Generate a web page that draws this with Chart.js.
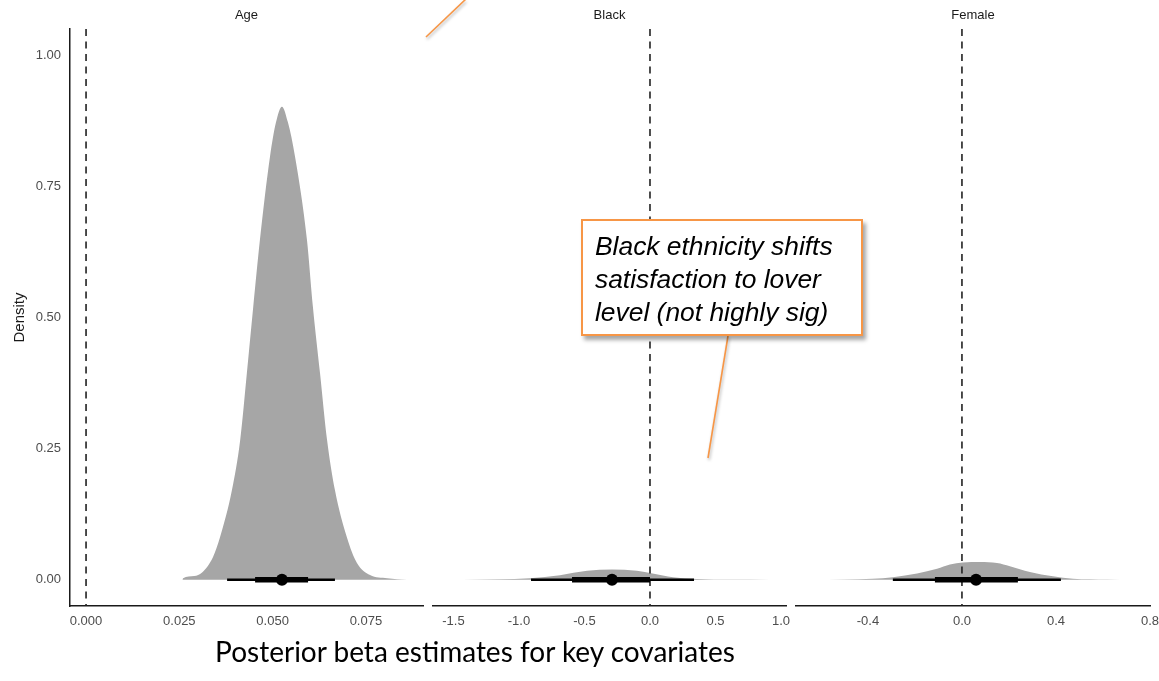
<!DOCTYPE html>
<html>
<head>
<meta charset="utf-8">
<script src="https://cdn.jsdelivr.net/npm/chart.js@4.4.0/dist/chart.umd.min.js"></script>
<style>
  html, body { margin: 0; padding: 0; background: #fff; }
  #wrap { position: relative; width: 1159px; height: 681px; overflow: hidden; background: #fff; }
  #wrap canvas { position: absolute; left: 0; top: 0; }
  #note {
    position: absolute; left: 581px; top: 219px; width: 282px; height: 117px;
    border: 2px solid #f79646; background: #fff;
    box-shadow: 3px 4px 4px rgba(0,0,0,0.35);
    font-family: "Liberation Sans", Arial, sans-serif; font-style: italic;
    font-size: 26.4px; line-height: 33px; color: #000;
    padding: 9px 0 0 12px; box-sizing: border-box; white-space: nowrap;
  }
  #leaders { position: absolute; left: 0; top: 0; filter: drop-shadow(1px 2px 1.5px rgba(0,0,0,0.3)); }
  #caption {
    position: absolute; left: 0; top: 634px; width: 950px; text-align: center;
    font-family: Lato, "Open Sans", sans-serif; font-size: 28px; color: #000;
  }
</style>
</head>
<body>
<div id="wrap">
  <canvas id="age" width="1159" height="681"></canvas>
  <canvas id="black" width="1159" height="681"></canvas>
  <canvas id="female" width="1159" height="681"></canvas>
  <svg id="leaders" width="1159" height="681">
    <line x1="728" y1="336" x2="708" y2="458" stroke="#f79646" stroke-width="1.6"/>
    <line x1="426" y1="37" x2="467" y2="-2" stroke="#f79646" stroke-width="1.6"/>
  </svg>
  <div id="note">Black ethnicity shifts<br>satisfaction to lover<br>level (not highly sig)</div>
  <div id="caption">Posterior beta estimates for key covariates</div>
</div>
<script>
// facet names and shared y ticks
const panels = ['Age', 'Black', 'Female'];
const yTicks = [0, 0.25, 0.5, 0.75, 1];

// Age posterior density (x, density)
const ageX = [0.0258, 0.0260, 0.0290, 0.0311, 0.0340, 0.0359, 0.0391, 0.0413, 0.0431, 0.0448, 0.0466,
  0.0493, 0.0509, 0.0525, 0.0541, 0.0560, 0.0592, 0.0608, 0.0627, 0.0646, 0.0667, 0.0699, 0.0726,
  0.0761, 0.0807, 0.0860];
const ageDensity = [0.000, 0.003, 0.007, 0.014, 0.043, 0.081, 0.171, 0.266, 0.394, 0.520, 0.648,
  0.807, 0.872, 0.902, 0.872, 0.807, 0.648, 0.520, 0.394, 0.266, 0.171, 0.081, 0.032,
  0.009, 0.003, 0.000];
// outer low, inner low, median, inner high, outer high
const ageInterval = [0.0378, 0.0453, 0.0525, 0.0595, 0.0667];
const ageTicks = [0, 0.025, 0.05, 0.075];

// Black
const blackX = [-1.43, -1.15, -0.916, -0.687, -0.48, -0.29, -0.10, 0.02, 0.176, 0.36, 0.61, 0.92];
const blackDensity = [0.0002, 0.0008, 0.003, 0.0086, 0.017, 0.0195, 0.017, 0.012, 0.005, 0.0015, 0.0003, 0];
const blackInterval = [-0.908, -0.595, -0.29, 0.0, 0.336];
const blackTicks = [-1.5, -1.0, -0.5, 0, 0.5, 1.0];

// Female
const femaleX = [-0.638, -0.50, -0.379, -0.294, -0.191, -0.106, -0.051, 0.004, 0.077, 0.149, 0.204,
  0.289, 0.387, 0.472, 0.617, 0.728];
const femaleDensity = [0.0002, 0.0007, 0.002, 0.005, 0.012, 0.021, 0.029, 0.033, 0.034, 0.032, 0.026,
  0.015, 0.0067, 0.002, 0.0005, 0];
const femaleInterval = [-0.294, -0.115, 0.06, 0.238, 0.421];
const femaleTicks = [-0.4, 0, 0.4, 0.8];

const FONT = '"Liberation Sans", Arial, sans-serif';
const W = 1159;

function makePanel(id, title, xs, dens, iv, ticks, opt) {
  const curve = xs.map((x, i) => ({ x, y: dens[i] }));
  new Chart(document.getElementById(id), {
    type: 'line',
    data: {
      datasets: [
        // median dot
        { data: [{ x: iv[2], y: 0 }], showLine: false, pointRadius: 6, pointBackgroundColor: '#000',
          pointBorderWidth: 0, order: 0 },
        // inner interval
        { data: [{ x: iv[1], y: 0 }, { x: iv[3], y: 0 }], borderColor: '#000', borderWidth: 5.5,
          pointRadius: 0, order: 1 },
        // outer interval
        { data: [{ x: iv[0], y: 0 }, { x: iv[4], y: 0 }], borderColor: '#000', borderWidth: 2.4,
          pointRadius: 0, order: 2 },
        // reference line at 0
        { data: [{ x: 0, y: 1.05 }, { x: 0, y: -0.05 }], borderColor: '#222', borderWidth: 1.6,
          borderDash: [7, 5.5], pointRadius: 0, order: 3 },
        // density
        { data: curve, borderWidth: 0, borderColor: 'rgba(0,0,0,0)', backgroundColor: '#a6a6a6',
          fill: 'origin', pointRadius: 0, cubicInterpolationMode: 'monotone', order: 4 }
      ]
    },
    options: {
      responsive: false,
      animation: false,
      events: [],
      layout: { padding: { left: opt.left, right: W - opt.right, top: 0, bottom: 0 } },
      plugins: {
        legend: { display: false },
        tooltip: { enabled: false },
        title: { display: true, text: title, fullSize: false, color: '#1a1a1a',
          font: { family: FONT, size: 13, weight: 'normal', lineHeight: 1.2 },
          padding: { top: 8, bottom: 5.4 } }
      },
      scales: {
        x: {
          type: 'linear', min: opt.min, max: opt.max,
          grid: { display: false, drawTicks: false },
          border: { display: true, color: '#1a1a1a', width: 1.5 },
          ticks: { color: '#4d4d4d', font: { family: FONT, size: 13 }, padding: 8, maxRotation: 0,
            callback: v => v.toFixed(opt.dec) },
          afterBuildTicks: s => { s.ticks = ticks.map(v => ({ value: v })); },
          afterFit: s => { s.height = 75; s.paddingLeft = 0; s.paddingRight = 0; }
        },
        y: {
          type: 'linear', min: -0.05, max: 1.05, display: opt.showY,
          grid: { display: false, drawTicks: false },
          border: { display: true, color: '#1a1a1a', width: 1.5 },
          ticks: { color: '#4d4d4d', font: { family: FONT, size: 13 }, padding: 9,
            callback: v => v.toFixed(2) },
          title: { display: true, text: 'Density', color: '#1a1a1a',
            font: { family: FONT, size: 15 }, padding: { top: 11, bottom: 0 } },
          afterBuildTicks: s => { s.ticks = yTicks.map(v => ({ value: v })); },
          afterFit: s => { s.width = opt.showY ? 70 : 0; s.paddingTop = 0; s.paddingBottom = 0; }
        }
      }
    }
  });
}

makePanel('age', panels[0], ageX, ageDensity, ageInterval, ageTicks,
  { left: 0, right: 423, min: -0.0043, max: 0.0903, dec: 3, showY: true });
makePanel('black', panels[1], blackX, blackDensity, blackInterval, blackTicks,
  { left: 433, right: 786, min: -1.656, max: 1.038, dec: 1, showY: false });
makePanel('female', panels[2], femaleX, femaleDensity, femaleInterval, femaleTicks,
  { left: 796, right: 1150, min: -0.706, max: 0.80, dec: 1, showY: false });
</script>
</body>
</html>
